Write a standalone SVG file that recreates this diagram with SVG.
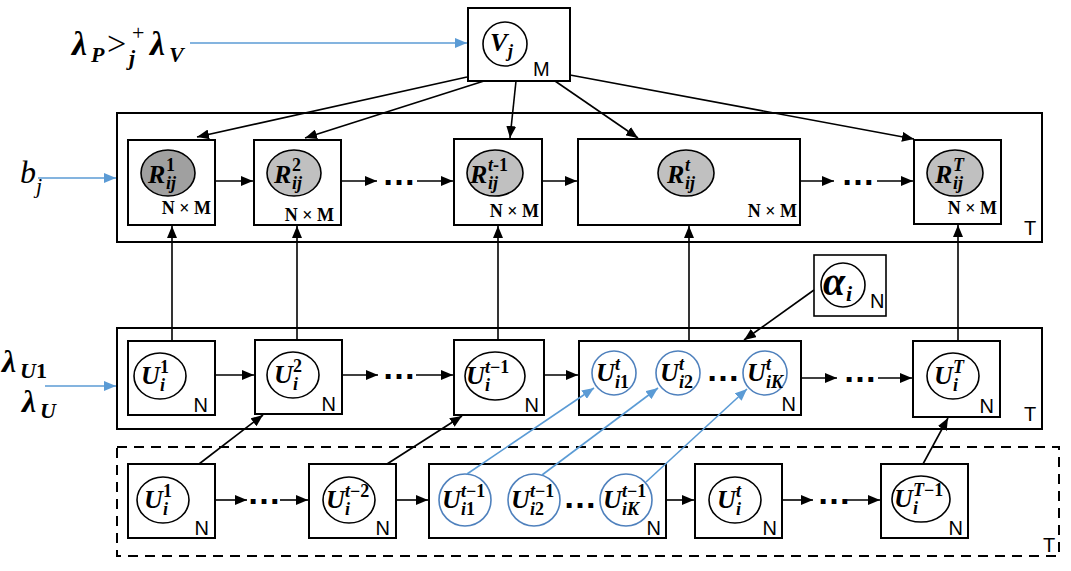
<svg xmlns="http://www.w3.org/2000/svg" width="1071" height="571" viewBox="0 0 1071 571">
<defs>
<style>
.box{fill:#fff;stroke:#000;stroke-width:2}
.frame{fill:none;stroke:#000;stroke-width:2}
.dash{fill:none;stroke:#000;stroke-width:2;stroke-dasharray:10 7}
.c{fill:#fff;stroke:#000;stroke-width:1.6}
.bc{fill:#fff;stroke:#4f81bd;stroke-width:1.6}
.rd{fill:#a0a0a0;stroke:#000;stroke-width:1.6}
.rl{fill:#c0c0c0;stroke:#000;stroke-width:1.6}
.e{fill:none;stroke:#000;stroke-width:1.6;marker-end:url(#ah)}
.be{fill:none;stroke:#5b9bd5;stroke-width:1.6;marker-end:url(#bh)}
.v{font-family:"Liberation Serif",serif;font-weight:bold;font-style:italic;font-size:26px;fill:#000}
.s{font-size:18px}
.u{font-style:normal}
.n{font-family:"Liberation Sans",Arial,sans-serif;font-size:20px}
.nm{font-family:"Liberation Serif",serif;font-weight:bold;font-size:18px}
.d{font-family:"Liberation Sans",Arial,sans-serif;font-weight:bold;font-size:34px}
.g{font-family:"Liberation Serif",serif;font-weight:bold;font-style:italic;font-size:34px}
.gs{font-size:22px}
.op{font-family:"Liberation Serif",serif;font-size:34px}
</style>
<marker id="ah" viewBox="0 0 12 10" refX="12" refY="5" markerWidth="12" markerHeight="10" orient="auto" markerUnits="userSpaceOnUse"><path d="M0,0L12,5L0,10z" fill="#000"/></marker>
<marker id="bh" viewBox="0 0 12 10" refX="12" refY="5" markerWidth="12" markerHeight="10" orient="auto" markerUnits="userSpaceOnUse"><path d="M0,0L12,5L0,10z" fill="#5b9bd5"/></marker>
</defs>
<rect width="1071" height="571" fill="#fff"/>

<!-- plates -->
<g id="plate-R">
<rect class="frame" x="117" y="113" width="925" height="129"/>
<text class="n" x="1024" y="235">T</text>
</g>
<g id="plate-U">
<rect class="frame" x="117" y="328" width="925" height="101"/>
<text class="n" x="1024" y="421">T</text>
</g>
<g id="plate-Uprev">
<rect class="dash" x="117" y="447" width="942" height="109"/>
<text class="n" x="1043" y="552">T</text>
</g>

<!-- side labels -->
<g id="label-lambdaPV">
<text class="g" x="72" y="55">λ<tspan class="gs" x="91" y="62">P</tspan></text>
<text class="op" x="107" y="55">&gt;</text>
<text class="op" x="132" y="40" style="font-size:22px">+</text>
<text class="g" x="129" y="65" style="font-size:22px">j</text>
<text class="g" x="150" y="55">λ<tspan class="gs" x="169" y="62">V</tspan></text>
</g>
<g id="label-bj">
<text font-family="Liberation Serif,serif" font-style="italic" font-size="32" x="20" y="183">b<tspan font-size="22" x="36" y="193">j</tspan></text>
</g>
<g id="label-lambdaU">
<text class="g" x="2" y="372" style="font-size:32px">λ<tspan class="gs" x="20" y="378">U<tspan class="u">1</tspan></tspan></text>
<text class="g" x="22" y="412" style="font-size:32px">λ<tspan class="gs" x="40" y="418">U</tspan></text>
</g>

<!-- V node -->
<g id="V">
<rect class="box" x="468" y="8" width="102" height="73"/>
<circle class="c" cx="505" cy="44" r="22"/>
<text class="v" x="490" y="51">V<tspan class="s" x="508" y="57">j</tspan></text>
<text class="n" x="533" y="76">M</text>
</g>

<!-- R row -->
<g id="R1">
<rect class="box" x="128" y="140" width="87" height="85"/>
<ellipse class="rd" cx="168" cy="173" rx="27" ry="23"/>
<text class="v" x="148" y="183">R<tspan class="s u" x="166" y="171">1</tspan><tspan class="s" x="166" y="189">ij</tspan></text>
<text class="nm" x="211" y="214" text-anchor="end">N × M</text>
</g>
<g id="R2">
<rect class="box" x="254" y="140" width="87" height="85"/>
<ellipse class="rl" cx="294" cy="173" rx="27" ry="23"/>
<text class="v" x="274" y="183">R<tspan class="s u" x="292" y="171">2</tspan><tspan class="s" x="292" y="189">ij</tspan></text>
<text class="nm" x="334" y="221" text-anchor="end">N × M</text>
</g>
<g id="Rt-1">
<rect class="box" x="454" y="139" width="88" height="86"/>
<ellipse class="rl" cx="495" cy="173" rx="28" ry="23"/>
<text class="v" x="470" y="183">R<tspan class="s" x="488" y="171">t<tspan class="u">-1</tspan></tspan><tspan class="s" x="488" y="189">ij</tspan></text>
<text class="nm" x="539" y="217" text-anchor="end">N × M</text>
</g>
<g id="Rt">
<rect class="box" x="578" y="139" width="222" height="86"/>
<ellipse class="rl" cx="686" cy="173" rx="28" ry="23"/>
<text class="v" x="667" y="183">R<tspan class="s" x="685" y="171">t</tspan><tspan class="s" x="685" y="189">ij</tspan></text>
<text class="nm" x="797" y="217" text-anchor="end">N × M</text>
</g>
<g id="RT">
<rect class="box" x="914" y="140" width="87" height="84"/>
<ellipse class="rl" cx="955" cy="173" rx="28" ry="23"/>
<text class="v" x="935" y="183">R<tspan class="s" x="953" y="171">T</tspan><tspan class="s" x="953" y="189">ij</tspan></text>
<text class="nm" x="997" y="214" text-anchor="end">N × M</text>
</g>

<!-- U row -->
<g id="U1">
<rect class="box" x="128" y="341" width="87" height="74"/>
<ellipse class="c" cx="160" cy="376" rx="26" ry="23"/>
<text class="v" x="141" y="384">U<tspan class="s u" x="160" y="373">1</tspan><tspan class="s" x="160" y="391">i</tspan></text>
<text class="n" x="208" y="412" text-anchor="end">N</text>
</g>
<g id="U2">
<rect class="box" x="255" y="340" width="87" height="74"/>
<ellipse class="c" cx="293" cy="375" rx="26" ry="23"/>
<text class="v" x="274" y="383">U<tspan class="s u" x="293" y="372">2</tspan><tspan class="s" x="293" y="390">i</tspan></text>
<text class="n" x="336" y="411" text-anchor="end">N</text>
</g>
<g id="Ut-1">
<rect class="box" x="454" y="340" width="90" height="75"/>
<ellipse class="c" cx="495" cy="376" rx="30" ry="24"/>
<text class="v" x="466" y="384">U<tspan class="s" x="485" y="373">t<tspan class="u">−1</tspan></tspan><tspan class="s" x="485" y="391">i</tspan></text>
<text class="n" x="539" y="412" text-anchor="end">N</text>
</g>
<g id="Ut">
<rect class="box" x="579" y="341" width="222" height="74"/>
<circle class="bc" cx="614" cy="373" r="22"/>
<circle class="bc" cx="678" cy="373" r="22"/>
<circle class="bc" cx="765" cy="373" r="22"/>
<text class="v" x="596" y="381">U<tspan class="s" x="615" y="370">t</tspan><tspan class="s" x="615" y="388">i<tspan class="u">1</tspan></tspan></text>
<text class="v" x="660" y="381">U<tspan class="s" x="679" y="370">t</tspan><tspan class="s" x="679" y="388">i<tspan class="u">2</tspan></tspan></text>
<text class="v" x="747" y="381">U<tspan class="s" x="766" y="370">t</tspan><tspan class="s" x="766" y="388">iK</tspan></text>
<text class="d" x="723" y="381" text-anchor="middle">…</text>
<text class="n" x="796" y="411" text-anchor="end">N</text>
</g>
<g id="UT">
<rect class="box" x="913" y="341" width="87" height="76"/>
<ellipse class="c" cx="953" cy="376" rx="26" ry="23"/>
<text class="v" x="934" y="384">U<tspan class="s" x="953" y="373">T</tspan><tspan class="s" x="953" y="391">i</tspan></text>
<text class="n" x="994" y="413" text-anchor="end">N</text>
</g>
<g id="alpha">
<rect class="box" x="814" y="255" width="72" height="61" style="stroke-width:1.6"/>
<circle class="c" cx="843" cy="285" r="22"/>
<text class="v" x="823" y="295" style="font-size:40px">α<tspan style="font-size:22px" x="846" y="301">i</tspan></text>
<text class="n" x="870" y="308">N</text>
</g>

<!-- previous U row -->
<g id="Up1">
<rect class="box" x="128" y="464" width="87" height="74"/>
<ellipse class="c" cx="163" cy="500" rx="26" ry="23"/>
<text class="v" x="144" y="508">U<tspan class="s u" x="163" y="497">1</tspan><tspan class="s" x="163" y="515">i</tspan></text>
<text class="n" x="209" y="535" text-anchor="end">N</text>
</g>
<g id="Upt-2">
<rect class="box" x="309" y="464" width="87" height="74"/>
<ellipse class="c" cx="349" cy="500" rx="26" ry="23"/>
<text class="v" x="326" y="508">U<tspan class="s" x="345" y="497">t<tspan class="u">−2</tspan></tspan><tspan class="s" x="345" y="515">i</tspan></text>
<text class="n" x="390" y="535" text-anchor="end">N</text>
</g>
<g id="Upt-1">
<rect class="box" x="429" y="464" width="237" height="74"/>
<circle class="bc" cx="465" cy="500" r="26"/>
<circle class="bc" cx="534" cy="500" r="26"/>
<circle class="bc" cx="626" cy="500" r="26"/>
<text class="v" x="442" y="508">U<tspan class="s" x="461" y="497">t<tspan class="u">−1</tspan></tspan><tspan class="s" x="461" y="515">i<tspan class="u">1</tspan></tspan></text>
<text class="v" x="511" y="508">U<tspan class="s" x="530" y="497">t<tspan class="u">−1</tspan></tspan><tspan class="s" x="530" y="515">i<tspan class="u">2</tspan></tspan></text>
<text class="v" x="603" y="508">U<tspan class="s" x="622" y="497">t<tspan class="u">−1</tspan></tspan><tspan class="s" x="622" y="515">iK</tspan></text>
<text class="d" x="580" y="508" text-anchor="middle">…</text>
<text class="n" x="661" y="535" text-anchor="end">N</text>
</g>
<g id="Upt">
<rect class="box" x="695" y="464" width="87" height="74"/>
<ellipse class="c" cx="735" cy="500" rx="26" ry="23"/>
<text class="v" x="717" y="508">U<tspan class="s" x="736" y="497">t</tspan><tspan class="s" x="736" y="515">i</tspan></text>
<text class="n" x="777" y="535" text-anchor="end">N</text>
</g>
<g id="UpT-1">
<rect class="box" x="881" y="464" width="87" height="74"/>
<ellipse class="c" cx="921" cy="499" rx="29" ry="23"/>
<text class="v" x="894" y="507">U<tspan class="s" x="913" y="496">T<tspan class="u">−1</tspan></tspan><tspan class="s" x="913" y="514">i</tspan></text>
<text class="n" x="963" y="535" text-anchor="end">N</text>
</g>

<!-- connectors -->
<g id="connectors">
<line class="be" x1="190" y1="43" x2="467" y2="43"/>
<line class="be" x1="38" y1="178" x2="116" y2="178"/>
<line class="be" x1="45" y1="386" x2="116" y2="386"/>

<line class="e" x1="467" y1="77" x2="197" y2="137"/>
<line class="e" x1="484" y1="81" x2="305" y2="138"/>
<line class="e" x1="516" y1="81" x2="510" y2="138"/>
<line class="e" x1="555" y1="81" x2="638" y2="138"/>
<line class="e" x1="570" y1="75" x2="914" y2="139"/>

<line class="e" x1="215" y1="181" x2="253" y2="181"/>
<line class="e" x1="341" y1="181" x2="377" y2="181"/>
<text class="d" x="399" y="185" text-anchor="middle">…</text>
<line class="e" x1="417" y1="181" x2="453" y2="181"/>
<line class="e" x1="542" y1="181" x2="577" y2="181"/>
<line class="e" x1="800" y1="181" x2="834" y2="181"/>
<text class="d" x="858" y="185" text-anchor="middle">…</text>
<line class="e" x1="877" y1="181" x2="913" y2="181"/>

<line class="e" x1="172" y1="341" x2="172" y2="226"/>
<line class="e" x1="297" y1="340" x2="297" y2="226"/>
<line class="e" x1="498" y1="340" x2="498" y2="226"/>
<line class="e" x1="689" y1="341" x2="689" y2="226"/>
<line class="e" x1="958" y1="341" x2="958" y2="225"/>

<line class="e" x1="215" y1="375" x2="254" y2="375"/>
<line class="e" x1="342" y1="375" x2="378" y2="375"/>
<text class="d" x="399" y="379" text-anchor="middle">…</text>
<line class="e" x1="416" y1="375" x2="453" y2="375"/>
<line class="e" x1="544" y1="375" x2="578" y2="375"/>
<line class="e" x1="801" y1="378" x2="837" y2="378"/>
<text class="d" x="860" y="382" text-anchor="middle">…</text>
<line class="e" x1="878" y1="378" x2="912" y2="378"/>

<line class="e" x1="814" y1="290" x2="744" y2="340"/>

<line class="e" x1="215" y1="500" x2="247" y2="500"/>
<text class="d" x="264" y="504" text-anchor="middle">…</text>
<line class="e" x1="280" y1="500" x2="308" y2="500"/>
<line class="e" x1="396" y1="500" x2="428" y2="500"/>
<line class="e" x1="666" y1="500" x2="694" y2="500"/>
<line class="e" x1="782" y1="500" x2="813" y2="500"/>
<text class="d" x="834" y="504" text-anchor="middle">…</text>
<line class="e" x1="847" y1="500" x2="880" y2="500"/>

<line class="e" x1="199" y1="464" x2="263" y2="415"/>
<line class="e" x1="387" y1="464" x2="462" y2="416"/>
<line class="e" x1="923" y1="464" x2="948" y2="418"/>
<line class="be" x1="467" y1="474" x2="594" y2="388"/>
<line class="be" x1="542" y1="475" x2="658" y2="388"/>
<line class="be" x1="646" y1="482" x2="747" y2="389"/>
</g>
</svg>
